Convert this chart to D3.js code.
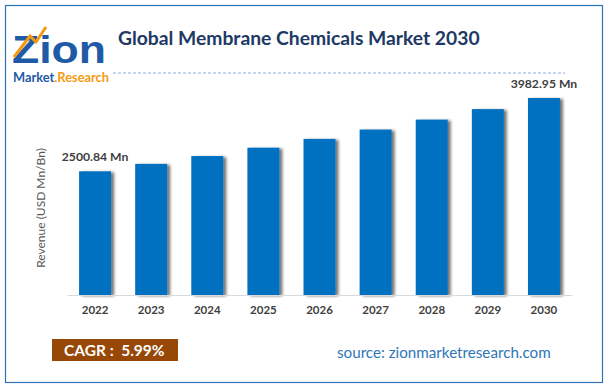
<!DOCTYPE html>
<html><head><meta charset="utf-8">
<script src="https://cdn.jsdelivr.net/npm/d3@7"></script>
<style>body{margin:0;background:#fff}svg{display:block}</style>
</head><body>
<svg id="c" width="609" height="388"></svg>
<script>
const years = ["2022","2023","2024","2025","2026","2027","2028","2029","2030"];
const revenue = [2500.84, 2651, 2809, 2978, 3156, 3345, 3546, 3758, 3982.95];
const labelText = {"2022":"2500.84 Mn","2030":"3982.95 Mn"};
const title = "Global Membrane Chemicals Market 2030";
const yTitle = "Revenue (USD Mn/Bn)";
const cagr = "CAGR :  5.99%";
const source = "source: zionmarketresearch.com";

const svg = d3.select("#c");
const font = "Lato, 'Open Sans', sans-serif";

const defs = svg.append("defs");
const f = defs.append("filter").attr("id","sh").attr("x","-20%").attr("y","-5%").attr("width","160%").attr("height","110%");
f.append("feGaussianBlur").attr("in","SourceAlpha").attr("stdDeviation",1.6).attr("result","b");
f.append("feOffset").attr("in","b").attr("dx",3).attr("dy",1).attr("result","o");
f.append("feComponentTransfer").attr("in","o").attr("result","o2").append("feFuncA").attr("type","linear").attr("slope",0.55);
const m = f.append("feMerge"); m.append("feMergeNode").attr("in","o2"); m.append("feMergeNode").attr("in","SourceGraphic");

// border
svg.append("rect").attr("x",5.5).attr("y",5.5).attr("width",597).attr("height",377)
  .attr("fill","none").attr("stroke","#2e75b6").attr("stroke-width",1.2);

// logo
svg.append("text").attr("x",12).attr("y",63).attr("font-family","'Liberation Sans',Arial,sans-serif")
  .attr("font-weight","bold").attr("font-size",38).attr("fill","#1f5aa6")
  .attr("textLength",94).attr("lengthAdjust","spacingAndGlyphs").text("Zion");
svg.append("path").attr("d","M14 57 L30 36 L36 42 L46 27").attr("fill","none").attr("stroke","#f39c12").attr("stroke-width",3);
const lg = svg.append("text").attr("x",13).attr("y",82).attr("font-family",font).attr("font-weight","bold").attr("font-size",12.5)
  .attr("textLength",96).attr("lengthAdjust","spacingAndGlyphs");
lg.append("tspan").attr("fill","#1f5aa6").text("Market");
lg.append("tspan").attr("fill","#f39c12").text(".Research");

// title
svg.append("text").attr("x",118).attr("y",45).attr("font-family",font).attr("font-weight","bold")
  .attr("font-size",19.3).attr("fill","#203864").text(title);
svg.append("line").attr("x1",113).attr("x2",565).attr("y1",73).attr("y2",73)
  .attr("stroke","#8eaadb").attr("stroke-width",1).attr("stroke-dasharray","3,2");

// chart
const x = d3.scaleBand().domain(years).range([67,572]).paddingInner(0.43).paddingOuter(0.215);
const y = d3.scaleLinear().domain([0, 3982.95]).range([295, 98]);

svg.append("g").selectAll("rect").data(years).join("rect")
  .attr("x",d=>x(d)).attr("width",x.bandwidth())
  .attr("y",(d,i)=>y(revenue[i])).attr("height",(d,i)=>y(0)-y(revenue[i]))
  .attr("fill","#0070c0").attr("filter","url(#sh)");

const ax = svg.append("g").attr("transform","translate(0,295)").call(d3.axisBottom(x).tickSize(0).tickPadding(11));
ax.select(".domain").attr("stroke","#d9d9d9");
ax.selectAll("text").attr("font-family",font).attr("font-size",11.5).attr("font-weight","bold").attr("fill","#404040");

svg.append("g").selectAll("text").data(years.filter(d=>labelText[d])).join("text")
  .attr("x",d=>x(d)+x.bandwidth()/2).attr("y",d=>y(revenue[years.indexOf(d)])-10)
  .attr("text-anchor","middle").attr("font-family",font).attr("font-weight","bold").attr("font-size",12.2)
  .attr("fill","#404040").text(d=>labelText[d]);

svg.append("text").attr("transform","translate(45,208) rotate(-90)").attr("text-anchor","middle")
  .attr("font-family",font).attr("font-size",12).attr("fill","#595959").text(yTitle);

// CAGR
svg.append("rect").attr("x",52).attr("y",339).attr("width",126).attr("height",22).attr("fill","#974706");
svg.append("text").attr("x",64).attr("y",356).attr("font-family",font).attr("font-weight","bold")
  .attr("font-size",15.5).attr("fill","#fff").attr("xml:space","preserve").style("white-space","pre").text(cagr);
svg.append("text").attr("x",337).attr("y",358).attr("font-family",font)
  .attr("font-size",15.2).attr("fill","#2e75b6").text(source);
</script>
</body></html>
